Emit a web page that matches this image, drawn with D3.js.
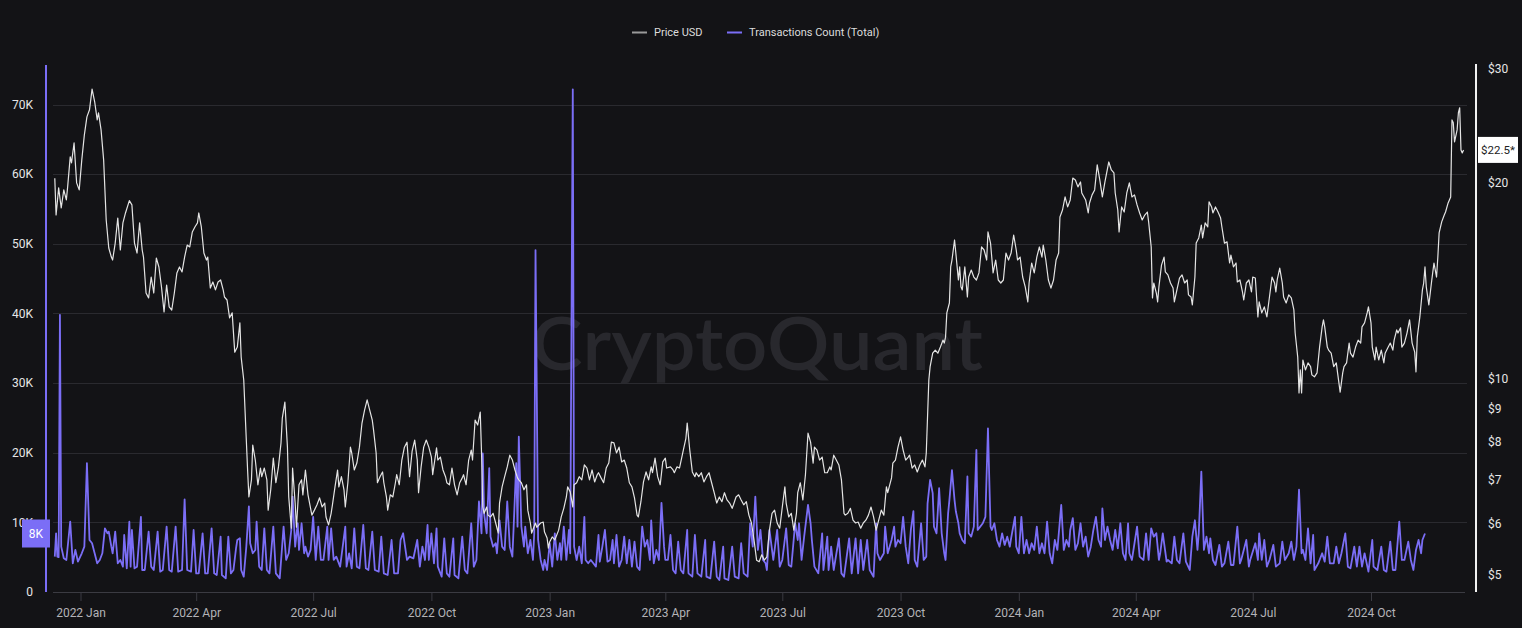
<!DOCTYPE html>
<html><head><meta charset="utf-8">
<script src="https://cdn.jsdelivr.net/npm/d3@7"></script>
<style>
html,body{margin:0;padding:0;background:#131316;}
svg{display:block;}
</style></head>
<body>
<svg id="chart" width="1522" height="628"></svg>
<script>
// ---- DATA ----
const baseDate = Date.UTC(2022, 0, 1); // day offsets are counted from 2022-01-01
const seriesNames = ["Price USD", "Transactions Count (Total)"];
const leftTicksK = [0, 10, 20, 30, 40, 50, 60, 70];
const rightTicks = [5, 6, 7, 8, 9, 10, 20, 30];
// [dayOffset, price USD]
const pricePoints = [[-20,20.35],[-19,17.87],[-17,19.67],[-15,18.32],[-13,19.53],[-11,18.85],[-10,19.74],[-8,21.95],[-7,21.49],[-5,23.06],[-3,20.02],[-1,19.53],[1,21.72],[3,23.73],[5,25.29],[7,25.93],[9,27.9],[11,26.7],[13,25.02],[14,25.66],[16,24.15],[18,21.72],[20,17.56],[22,15.9],[24,15.4],[25,15.24],[27,16.18],[29,17.68],[31,15.79],[33,17.38],[35,18.0],[38,18.8],[40,18.52],[42,16.18],[44,15.62],[46,17.38],[48,15.79],[49,15.4],[51,13.56],[53,13.33],[55,14.35],[57,13.56],[59,15.35],[61,14.87],[63,13.86],[65,12.68],[67,13.95],[69,12.91],[71,12.77],[73,13.56],[75,14.56],[77,14.87],[79,14.61],[81,15.4],[83,16.07],[85,15.96],[87,16.83],[89,17.13],[91,17.38],[92,18.0],[94,17.13],[96,15.62],[98,15.24],[99,15.4],[101,13.8],[103,14.1],[105,13.71],[107,14.1],[109,14.2],[111,13.71],[112,13.37],[114,13.23],[116,12.42],[118,12.64],[120,11.0],[122,11.2],[124,12.2],[125,10.81],[127,9.97],[129,8.06],[130,7.25],[131,6.59],[133,7.0],[134,7.92],[136,7.51],[138,6.88],[140,7.30],[141,7.08],[143,7.30],[145,7.0],[146,6.29],[148,6.76],[150,7.56],[152,6.93],[154,7.33],[156,7.98],[157,8.71],[159,9.22],[161,7.86],[162,6.59],[164,5.90],[165,7.30],[167,6.45],[168,5.92],[170,6.88],[172,7.0],[173,6.64],[175,7.25],[177,6.64],[179,6.33],[180,6.18],[182,6.29],[184,6.41],[186,6.57],[188,6.36],[190,6.45],[191,6.14],[193,5.97],[195,6.22],[196,6.41],[198,6.83],[200,7.25],[201,6.83],[203,7.08],[205,6.76],[206,6.36],[208,6.93],[210,7.86],[211,7.70],[213,7.25],[215,7.43],[217,7.86],[219,8.56],[221,8.96],[223,9.29],[225,8.96],[227,8.65],[228,8.35],[230,7.70],[231,6.93],[233,7.08],[235,7.20],[236,6.93],[238,6.59],[239,6.29],[241,6.64],[243,6.59],[245,6.93],[246,7.13],[248,6.88],[250,7.51],[252,7.86],[254,8.0],[256,7.08],[258,7.75],[260,8.06],[262,7.51],[263,6.69],[265,7.33],[267,7.86],[269,8.06],[271,7.86],[273,7.59],[274,7.13],[277,7.84],[278,7.51],[280,7.59],[282,7.25],[284,7.08],[285,6.93],[287,6.88],[289,7.30],[291,6.88],[293,6.64],[295,6.93],[297,7.05],[298,7.13],[300,6.88],[302,7.51],[304,7.78],[305,7.51],[307,8.65],[309,8.50],[311,8.90],[312,7.70],[313,6.36],[314,6.22],[316,6.36],[317,6.18],[319,6.14],[321,6.22],[323,6.01],[325,5.80],[326,6.45],[328,6.83],[330,7.08],[332,7.33],[334,7.64],[336,7.51],[338,7.25],[340,7.05],[341,7.0],[343,6.93],[345,6.76],[347,6.88],[348,6.29],[350,6.01],[351,5.80],[354,6.01],[355,5.92],[358,6.01],[360,6.03],[361,5.82],[363,5.70],[364,5.50],[365,5.62],[367,5.72],[369,5.66],[372,5.86],[374,6.14],[376,6.33],[378,6.59],[379,6.83],[381,6.71],[383,6.36],[384,6.88],[386,6.93],[388,7.08],[390,7.0],[392,7.38],[394,7.30],[396,7.0],[398,7.25],[400,6.95],[402,7.13],[403,7.18],[405,7.05],[407,6.93],[409,7.30],[411,7.43],[413,8.0],[415,7.98],[417,7.70],[419,7.86],[421,7.46],[423,7.51],[425,7.30],[427,6.93],[429,6.83],[431,6.57],[433,6.18],[434,6.14],[436,6.48],[438,6.95],[440,7.20],[442,7.0],[444,7.33],[445,7.18],[447,7.56],[449,7.08],[451,6.88],[453,7.46],[455,7.56],[456,7.30],[459,7.33],[461,7.25],[462,7.18],[464,7.33],[466,7.30],[469,7.78],[471,8.11],[472,8.56],[474,7.78],[476,7.20],[478,7.08],[479,7.18],[481,7.08],[483,7.18],[485,6.95],[487,7.08],[489,7.18],[491,6.93],[493,6.69],[495,6.45],[497,6.59],[499,6.48],[501,6.69],[503,6.52],[505,6.45],[507,6.33],[508,6.41],[510,6.59],[512,6.64],[514,6.52],[516,6.41],[518,6.48],[520,6.18],[522,6.01],[524,5.66],[526,5.27],[528,5.24],[530,5.37],[532,5.27],[534,5.33],[536,5.86],[538,6.22],[540,6.29],[542,6.01],[544,5.90],[546,6.36],[548,6.83],[549,6.45],[551,6.14],[553,6.22],[555,5.86],[557,6.22],[558,6.69],[560,6.93],[562,6.52],[564,7.13],[566,8.26],[568,8.0],[570,7.43],[571,7.86],[573,7.78],[575,7.51],[577,7.59],[579,7.18],[581,7.18],[583,7.33],[584,7.25],[586,7.64],[588,7.51],[590,7.38],[592,7.0],[594,6.22],[595,6.18],[597,6.22],[599,6.33],[601,6.07],[603,6.01],[605,6.03],[607,5.90],[609,6.01],[611,6.07],[613,6.18],[615,6.36],[617,6.14],[619,5.86],[621,6.07],[623,6.29],[625,6.18],[627,6.83],[628,6.69],[631,7.05],[632,7.43],[634,7.51],[636,7.86],[638,8.15],[640,7.78],[642,7.51],[644,7.59],[645,7.64],[647,7.30],[649,7.38],[651,7.20],[653,7.38],[655,7.51],[657,7.33],[658,7.70],[660,9.97],[661,10.45],[663,10.96],[665,11.08],[667,10.96],[669,11.20],[671,11.48],[672,11.36],[673,11.6],[674,12.64],[676,13.09],[677,14.87],[678,15.24],[680,16.36],[681,15.62],[683,14.2],[684,14.87],[685,13.86],[686,13.71],[688,14.87],[690,13.37],[691,14.35],[693,14.71],[695,14.35],[697,14.2],[699,14.56],[701,15.96],[703,15.79],[705,15.24],[706,16.83],[708,16.18],[710,14.56],[712,15.24],[714,14.2],[716,14.05],[718,14.2],[720,15.62],[722,15.24],[724,15.62],[726,16.65],[728,15.79],[729,15.24],[731,15.40],[733,14.35],[735,13.86],[737,13.14],[738,14.05],[740,15.08],[742,14.56],[744,15.40],[746,15.96],[748,15.40],[749,16.07],[751,15.24],[753,14.2],[755,13.8],[757,14.2],[759,15.24],[761,15.62],[762,17.75],[764,18.19],[766,19.05],[768,18.39],[770,18.85],[772,20.37],[774,20.23],[776,19.74],[778,20.09],[779,19.32],[782,18.85],[784,18.0],[785,18.65],[787,19.19],[789,19.53],[791,21.34],[793,20.23],[795,19.05],[797,20.09],[800,21.56],[802,20.96],[804,20.74],[805,19.32],[807,18.19],[808,16.83],[810,18.39],[812,18.06],[814,19.32],[816,20.02],[818,19.05],[820,19.19],[822,18.52],[824,18.0],[826,17.56],[828,17.87],[830,18.06],[831,17.44],[833,15.96],[834,13.33],[835,14.05],[837,13.56],[838,13.14],[839,13.86],[841,14.97],[843,15.40],[844,14.61],[846,14.46],[848,14.05],[850,13.8],[851,13.14],[853,13.71],[855,14.30],[857,14.46],[859,14.05],[861,14.2],[862,13.47],[864,13.37],[865,13.0],[867,14.35],[868,16.18],[870,16.48],[872,17.25],[873,16.48],[875,17.38],[877,17.13],[878,18.72],[880,18.39],[881,18.0],[883,18.39],[885,18.06],[887,17.68],[888,17.13],[890,16.18],[892,16.25],[894,15.08],[895,15.51],[897,14.87],[899,15.08],[900,14.1],[902,14.2],[904,13.61],[905,13.23],[907,14.05],[909,14.2],[911,13.61],[912,14.35],[914,14.30],[916,12.46],[917,13.14],[919,12.64],[921,12.91],[923,12.46],[925,13.37],[927,14.35],[929,14.05],[930,13.61],[931,14.2],[933,14.81],[935,14.05],[936,13.37],[938,13.09],[940,13.47],[942,13.33],[944,12.77],[945,11.77],[947,10.81],[948,9.52],[949,10.33],[950,9.52],[951,10.70],[953,10.33],[955,10.59],[957,10.45],[958,10.15],[960,10.08],[962,10.22],[964,11.20],[966,12.03],[967,12.33],[968,12.03],[970,11.20],[971,11.08],[973,10.96],[975,10.45],[977,10.59],[978,10.22],[980,9.55],[982,10.22],[983,10.45],[985,10.59],[987,11.36],[988,10.96],[990,10.81],[992,11.20],[994,11.48],[996,11.36],[997,12.03],[999,12.20],[1001,12.64],[1002,12.91],[1004,12.20],[1005,11.20],[1007,10.70],[1008,11.20],[1010,10.70],[1012,11.08],[1014,10.59],[1015,10.96],[1017,11.16],[1019,11.36],[1021,11.08],[1022,11.48],[1024,11.90],[1025,11.77],[1027,11.99],[1028,11.20],[1030,11.36],[1032,11.77],[1034,12.33],[1036,11.36],[1038,11.0],[1039,10.26],[1040,11.6],[1042,12.46],[1044,13.71],[1045,14.05],[1046,14.87],[1047,13.86],[1049,13.0],[1051,14.05],[1052,14.56],[1053,15.08],[1055,14.35],[1056,15.40],[1057,16.77],[1059,17.44],[1061,17.87],[1062,18.06],[1064,18.65],[1065,18.85],[1066,19.05],[1067,25.02],[1068,24.76],[1069,23.15],[1071,24.15],[1072,25.66],[1073,26.12],[1074,22.50],[1075,22.26],[1076,22.5]];
// [dayOffset, transactions count in thousands]
const txPointsK = [[-20,5.08],[-19,8.43],[-18,5.08],[-17,5.0],[-16,39.8],[-15,6.51],[-13,4.84],[-11,4.60],[-8,10.1],[-6,4.12],[-4,6.04],[-2,4.36],[1,5.56],[3,6.51],[5,18.5],[7,7.47],[9,7.0],[11,5.56],[13,4.12],[15,4.60],[17,5.56],[19,9.15],[21,8.43],[22,8.67],[24,6.51],[25,5.56],[27,8.67],[29,4.12],[31,4.60],[33,3.64],[34,8.19],[36,3.40],[38,10.1],[39,3.64],[40,8.91],[42,3.40],[44,3.64],[47,10.8],[48,3.16],[50,3.16],[53,8.67],[55,3.64],[57,3.16],[60,8.67],[62,2.92],[64,3.16],[67,9.39],[69,3.16],[71,2.92],[74,9.39],[76,2.92],[79,3.16],[81,13.3],[83,3.16],[86,2.92],[88,8.91],[90,2.68],[92,2.68],[95,8.43],[97,2.68],[99,2.68],[102,9.15],[104,2.68],[106,2.44],[109,7.95],[110,2.44],[113,1.96],[115,7.95],[117,2.68],[119,3.16],[121,6.27],[122,7.47],[124,7.71],[125,3.16],[127,2.20],[129,6.51],[131,12.3],[132,7.0],[134,5.56],[136,6.04],[137,10.1],[139,3.64],[141,3.16],[143,9.15],[145,3.16],[147,2.68],[150,9.39],[152,2.68],[155,1.96],[158,9.39],[160,4.60],[162,5.56],[164,8.91],[165,13.7],[167,6.51],[169,9.87],[170,6.04],[172,9.87],[174,5.56],[175,6.51],[177,5.08],[179,6.04],[181,10.8],[183,4.60],[185,9.39],[187,4.60],[189,4.60],[192,9.39],[193,4.60],[195,9.15],[197,4.60],[199,5.08],[202,3.64],[206,9.39],[207,3.64],[209,5.56],[211,3.40],[213,9.15],[215,3.64],[217,3.40],[220,9.63],[222,3.40],[224,3.16],[227,8.67],[229,3.16],[232,2.92],[234,7.95],[236,2.68],[239,2.44],[242,7.47],[244,2.68],[247,2.68],[249,7.47],[251,8.43],[254,4.60],[256,5.08],[259,4.84],[262,7.47],[264,3.64],[266,6.51],[268,4.60],[270,9.63],[271,4.60],[273,8.43],[275,4.12],[277,9.15],[278,3.64],[281,2.20],[283,7.71],[285,2.68],[287,2.20],[290,7.71],[291,2.44],[294,1.96],[297,7.95],[299,3.16],[301,2.68],[304,9.87],[306,3.64],[308,4.60],[310,13.0],[312,8.43],[313,19.9],[314,11.3],[316,8.43],[318,17.8],[319,7.95],[321,6.51],[323,7.0],[324,5.56],[326,10.3],[328,6.51],[330,6.04],[332,13.0],[334,6.51],[336,5.08],[337,9.39],[339,18.5],[340,9.39],[341,22.3],[343,9.39],[345,6.51],[346,9.39],[348,5.56],[350,7.47],[352,4.60],[353,8.43],[354,49.1],[356,7.47],[358,4.60],[360,3.16],[361,4.60],[363,3.16],[365,7.0],[367,3.64],[369,8.43],[371,4.60],[373,7.0],[374,4.60],[376,9.39],[378,4.60],[380,8.91],[381,5.56],[383,72.2],[384,6.51],[386,4.60],[388,6.51],[390,4.12],[392,10.8],[393,4.60],[395,4.12],[397,4.60],[399,4.12],[401,3.64],[403,8.19],[404,4.36],[406,6.51],[408,8.91],[410,4.36],[412,4.60],[414,7.47],[415,4.12],[417,8.19],[419,3.64],[421,4.60],[423,7.95],[425,4.12],[427,7.47],[429,3.64],[431,7.23],[433,3.64],[435,3.16],[437,9.39],[439,6.51],[441,7.47],[443,4.60],[444,10.3],[446,4.12],[448,6.04],[450,4.60],[452,12.8],[454,6.51],[455,4.60],[457,4.60],[459,8.19],[461,3.16],[463,2.68],[465,7.23],[467,3.16],[469,2.68],[472,8.91],[473,2.68],[476,2.20],[478,8.19],[480,2.68],[483,2.20],[486,7.47],[487,2.20],[490,1.96],[493,7.23],[495,2.20],[497,1.72],[500,6.51],[501,1.96],[504,1.72],[507,6.51],[509,2.20],[512,1.96],[514,7.0],[516,2.68],[519,2.20],[521,9.87],[523,6.51],[525,13.7],[527,6.04],[529,8.91],[531,4.60],[533,4.12],[534,3.16],[536,8.91],[539,4.60],[542,8.91],[544,3.64],[546,4.60],[549,9.15],[551,3.88],[553,3.64],[556,9.87],[558,7.47],[559,9.87],[561,4.60],[563,7.95],[566,12.5],[568,9.87],[569,7.47],[571,3.64],[574,2.68],[577,8.43],[578,3.16],[581,7.95],[582,3.16],[584,6.51],[586,3.16],[590,7.71],[592,2.68],[594,2.20],[598,7.71],[600,2.68],[603,7.71],[605,2.68],[607,7.47],[609,3.16],[612,7.47],[614,3.16],[617,2.20],[619,9.87],[620,5.56],[622,4.60],[625,5.56],[626,9.39],[628,5.56],[631,7.47],[633,9.39],[634,6.51],[636,7.47],[638,7.0],[640,10.8],[642,6.51],[644,4.12],[646,8.91],[648,11.6],[649,4.60],[651,3.64],[654,9.87],[656,4.60],[658,5.08],[659,12.7],[661,16.1],[663,14.2],[664,9.39],[666,8.43],[668,14.9],[670,8.43],[672,5.56],[673,4.60],[675,11.3],[676,13.2],[678,17.5],[680,13.2],[681,11.6],[683,9.87],[684,8.43],[686,7.47],[688,7.0],[690,16.6],[691,8.43],[693,7.95],[695,9.39],[697,20.4],[698,8.91],[700,9.39],[702,9.87],[704,10.8],[706,23.5],[708,9.39],[709,8.91],[711,9.87],[713,7.47],[715,6.51],[717,8.43],[719,6.76],[721,7.95],[723,6.51],[724,7.71],[727,10.8],[728,6.51],[730,5.56],[732,10.8],[734,5.56],[736,7.47],[738,5.56],[740,7.0],[742,6.04],[744,9.39],[746,5.56],[748,7.0],[750,5.56],[752,10.1],[754,5.56],[756,4.12],[758,7.47],[760,6.04],[763,12.5],[765,6.04],[767,7.47],[769,6.51],[770,8.91],[772,10.6],[774,6.04],[776,7.0],[778,9.87],[780,6.51],[782,7.95],[784,5.08],[786,6.51],[788,8.91],[790,10.8],[792,7.47],[794,6.51],[795,12.0],[797,7.47],[799,9.39],[801,7.47],[803,6.04],[805,8.91],[807,6.27],[809,9.87],[811,5.56],[813,4.60],[815,9.87],[816,5.56],[818,4.60],[820,7.0],[822,9.39],[824,5.08],[827,4.60],[829,8.43],[831,4.60],[833,9.15],[835,7.95],[837,8.43],[839,4.60],[840,5.56],[842,8.43],[845,4.36],[846,4.60],[849,4.12],[851,7.95],[853,4.60],[855,4.12],[858,8.43],[860,4.36],[863,3.16],[865,7.95],[867,10.3],[869,6.04],[870,8.43],[872,17.3],[874,6.04],[876,7.95],[878,5.56],[879,7.71],[881,4.60],[883,3.88],[886,6.76],[888,3.64],[890,4.12],[893,7.23],[895,3.88],[897,3.88],[900,9.39],[902,4.12],[903,4.60],[907,7.47],[909,3.64],[910,4.60],[914,7.0],[916,4.60],[917,8.43],[919,4.60],[921,7.47],[923,3.64],[925,4.60],[928,6.76],[930,3.64],[933,4.12],[935,7.23],[937,4.60],[940,5.56],[942,7.23],[944,4.60],[946,6.51],[948,14.7],[950,5.56],[951,6.04],[953,4.60],[955,9.15],[957,4.12],[959,8.19],[960,3.16],[963,4.12],[966,5.56],[968,4.36],[970,7.95],[972,4.12],[975,4.12],[977,6.51],[979,4.12],[981,5.56],[984,8.43],[986,3.64],[988,3.40],[991,6.51],[993,3.64],[995,6.51],[997,3.64],[999,5.56],[1002,2.92],[1005,7.47],[1006,3.64],[1009,3.16],[1012,6.51],[1014,3.16],[1016,2.92],[1019,7.23],[1021,3.16],[1023,3.16],[1026,10.1],[1028,4.60],[1030,4.60],[1033,7.23],[1035,4.60],[1037,3.16],[1039,6.04],[1041,7.47],[1043,5.56],[1044,7.47],[1046,8.4]];

// ---- STYLE ----
const bg = "#131316", gridColor = "#2a2a2f", txColor = "#7b6ef6", priceColor = "#e4e4e4";
const font = "Roboto, 'Noto Sans', sans-serif";

const svg = d3.select("#chart");
svg.append("rect").attr("width",1522).attr("height",628).attr("fill",bg);

const day = d => new Date(baseDate + d*86400000);
const x = d3.scaleUtc().domain([new Date(Date.UTC(2022,0,1)), new Date(Date.UTC(2024,9,1))]).range([80.5, 1371]);
const yL = d3.scaleLinear().domain([0,70]).range([592,104.6]);
const yR = d3.scaleLog().domain([5,30]).range([575,68.6]);

// watermark
svg.append("text").attr("x",531).attr("y",370).attr("textLength",452).attr("lengthAdjust","spacingAndGlyphs")
  .attr("font-family","Lato, 'Noto Sans', sans-serif").attr("font-weight",600).attr("font-size",74)
  .attr("fill","#28282d").text("CryptoQuant");

// grid
svg.append("g").selectAll("line").data(leftTicksK.filter(v=>v>0)).join("line")
  .attr("x1",53).attr("x2",1467).attr("y1",d=>Math.round(yL(d))+0.5).attr("y2",d=>Math.round(yL(d))+0.5)
  .attr("stroke",gridColor).attr("stroke-width",1);

// x axis
const xAxisG = svg.append("g").attr("transform","translate(0,592)")
  .call(d3.axisBottom(x).ticks(d3.utcMonth.every(3)).tickFormat(d3.utcFormat("%Y %b")).tickSize(9).tickSizeOuter(0));
xAxisG.select(".domain").attr("d","M53,0.5H1465").attr("stroke","#3b3b42");
xAxisG.selectAll(".tick line").attr("stroke","#3b3b42");
xAxisG.selectAll(".tick text").attr("fill","#b3b3b8").attr("font-size",12).attr("font-family",font).attr("dy","1.1em");

// clip
svg.append("clipPath").attr("id","plot").append("rect").attr("x",48).attr("y",60).attr("width",1422).attr("height",532);

const txLine = d3.line().x(d=>x(day(d[0]))).y(d=>yL(d[1]));
const priceLine = d3.line().x(d=>x(day(d[0]))).y(d=>yR(d[1]));

svg.append("path").datum(txPointsK).attr("clip-path","url(#plot)")
  .attr("d",txLine).attr("fill","none").attr("stroke",txColor).attr("stroke-width",1.8).attr("stroke-linejoin","round");
svg.append("path").datum(pricePoints).attr("clip-path","url(#plot)")
  .attr("d",priceLine).attr("fill","none").attr("stroke",priceColor).attr("stroke-width",1.2).attr("stroke-linejoin","round");

// left axis
svg.append("line").attr("x1",46).attr("x2",46).attr("y1",65).attr("y2",592).attr("stroke",txColor).attr("stroke-width",2);
svg.append("g").selectAll("text").data(leftTicksK).join("text")
  .attr("x",33).attr("y",d=>yL(d)).attr("dy","0.35em").attr("text-anchor","end")
  .attr("fill","#e6e6e6").attr("font-size",12).attr("font-family",font)
  .text(d=>d===0?"0":d+"K");

// right axis
svg.append("line").attr("x1",1476).attr("x2",1476).attr("y1",64).attr("y2",592).attr("stroke","#f2f2f2").attr("stroke-width",2);
svg.append("g").selectAll("text").data(rightTicks).join("text")
  .attr("x",1488).attr("y",d=>yR(d)).attr("dy","0.35em")
  .attr("fill","#e6e6e6").attr("font-size",12).attr("font-family",font)
  .text(d=>"$"+d);

// last value badges
const lastTx = txPointsK[txPointsK.length-1][1];
const lastPrice = pricePoints[pricePoints.length-1][1];
const by = yL(lastTx);
svg.append("rect").attr("x",22).attr("y",by-14).attr("width",28).attr("height",28).attr("fill",txColor);
svg.append("text").attr("x",36).attr("y",by).attr("dy","0.35em").attr("text-anchor","middle")
  .attr("fill","#fff").attr("font-size",12).attr("font-family",font).text(Math.floor(lastTx)+"K");
const py = yR(lastPrice);
svg.append("rect").attr("x",1478).attr("y",py-13).attr("width",40).attr("height",26).attr("fill","#ffffff");
svg.append("text").attr("x",1498).attr("y",py).attr("dy","0.35em").attr("text-anchor","middle")
  .attr("fill","#222").attr("font-size",11.5).attr("font-family",font).text("$"+lastPrice+"*");

// legend
const legend = svg.append("g").attr("font-family",font).attr("font-size",11).attr("fill","#dcdcdc");
const legItems = [{name:seriesNames[0], color:"#9a9a9a", x:632},{name:seriesNames[1], color:txColor, x:727}];
legItems.forEach(it=>{
  legend.append("line").attr("x1",it.x).attr("x2",it.x+15).attr("y1",32.5).attr("y2",32.5).attr("stroke",it.color).attr("stroke-width",2);
  legend.append("text").attr("x",it.x+22).attr("y",32).attr("dy","0.35em").text(it.name);
});
</script>
</body></html>
